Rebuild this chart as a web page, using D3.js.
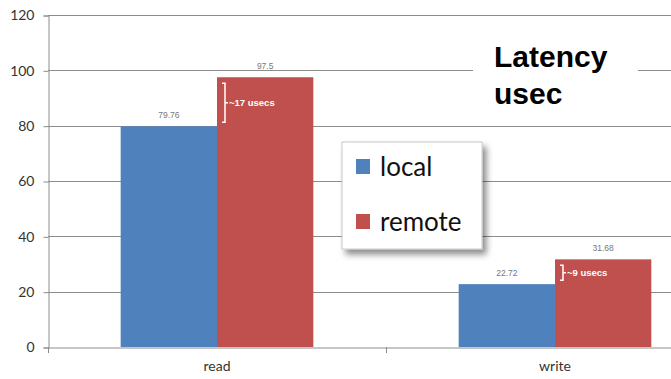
<!DOCTYPE html>
<html>
<head>
<meta charset="utf-8">
<script src="https://cdn.jsdelivr.net/npm/d3@7"></script>
<style>
  html, body { margin: 0; padding: 0; background: #fff; }
  svg { display: block; }
</style>
</head>
<body>
<svg id="chart" width="671" height="379"></svg>
<script>
// Latency per operation, microseconds
const categories = ["read", "write"];
const seriesNames = ["local", "remote"];
const localValues = [79.76, 22.72];
const remoteValues = [97.5, 31.68];
const yTicks = [0, 20, 40, 60, 80, 100, 120];
const gapNotes = ["~17 usecs", "~9 usecs"];
const colors = ["#4F81BD", "#C0504D"];

const svg = d3.select("#chart");
const font = "Lato, 'Open Sans', sans-serif";

const x = d3.scaleBand().domain(categories).range([48, 724]).paddingInner(0).paddingOuter(0);
const y = d3.scaleLinear().domain([0, 120]).range([347, 15]);
const groupFrac = 0.57;

// Gridlines
svg.append("g").selectAll("line").data(yTicks.slice(1)).join("line")
  .attr("x1", 48).attr("x2", 671)
  .attr("y1", d => Math.round(y(d)) + 0.5).attr("y2", d => Math.round(y(d)) + 0.5)
  .attr("stroke", "#8c8c8c").attr("stroke-width", 1);

// Y axis
const yAxis = d3.axisLeft(y).tickValues(yTicks).tickSize(5).tickPadding(9);
const gy = svg.append("g").attr("transform", "translate(48.5,0.5)").call(yAxis);
gy.select(".domain").attr("stroke", "#8c8c8c");
gy.selectAll(".tick line").attr("stroke", "#8c8c8c");
gy.selectAll(".tick text").attr("font-family", font).attr("font-size", 14).attr("fill", "#333");

// X axis
const xAxis = d3.axisBottom(x).tickSize(0).tickPadding(14);
const gx = svg.append("g").attr("transform", "translate(0,347.5)").call(xAxis);
gx.select(".domain").attr("stroke", "#8c8c8c");
gx.selectAll(".tick text").attr("font-family", font).attr("font-size", 14).attr("fill", "#333");
// Category separators
svg.append("g").selectAll("line").data(categories).join("line")
  .attr("x1", d => Math.round(x(d)) + 0.5).attr("x2", d => Math.round(x(d)) + 0.5)
  .attr("y1", 347).attr("y2", 353)
  .attr("stroke", "#8c8c8c");

// Bars
const barW = x.bandwidth() * groupFrac / 2;
const rows = categories.map((c, i) => ({ cat: c, vals: [localValues[i], remoteValues[i]] }));
const bars = [];
rows.forEach(r => r.vals.forEach((v, s) => bars.push({ cat: r.cat, s, v })));
const bx = d => x(d.cat) + x.bandwidth() / 2 + (d.s - 1) * barW;

svg.append("g").selectAll("rect").data(bars).join("rect")
  .attr("x", bx).attr("width", barW)
  .attr("y", d => y(d.v)).attr("height", d => y(0) - y(d.v))
  .attr("fill", d => colors[d.s]);

// Value labels
svg.append("g").selectAll("text").data(bars).join("text")
  .attr("x", d => bx(d) + barW / 2)
  .attr("y", d => y(d.v) - 8)
  .attr("text-anchor", "middle")
  .attr("font-family", "'Liberation Sans', Arial, sans-serif")
  .attr("font-size", 8.5)
  .attr("fill", "#777")
  .text(d => d.v);

// Braces marking the remote-vs-local gap
rows.forEach((r, i) => {
  const x0 = x(r.cat) + x.bandwidth() / 2 + 5;
  const top = y(r.vals[1]) + 6;
  const bot = y(r.vals[0]) - 4;
  const mid = (top + bot) / 2;
  const g = svg.append("g");
  g.append("path")
    .attr("d", `M${x0},${top} L${x0 + 3},${top} L${x0 + 3},${bot} L${x0},${bot} M${x0 + 3},${mid} L${x0 + 6},${mid}`)
    .attr("fill", "none").attr("stroke", "#fff").attr("stroke-width", 1.5);
  g.append("text")
    .attr("x", x0 + 7).attr("y", mid + 3.5)
    .attr("font-family", "'Liberation Sans', Arial, sans-serif")
    .attr("font-size", 9.5).attr("font-weight", "bold")
    .attr("fill", "#fff")
    .text(gapNotes[i]);
});

// Title
const title = svg.append("g");
title.append("rect").attr("x", 473).attr("y", 30).attr("width", 165).attr("height", 82).attr("fill", "#fff");
title.append("text").attr("x", 494).attr("y", 67)
  .attr("font-family", "'Liberation Sans', Arial, sans-serif")
  .attr("font-size", 30).attr("font-weight", "bold").attr("fill", "#000")
  .text("Latency");
title.append("text").attr("x", 494).attr("y", 104)
  .attr("font-family", "'Liberation Sans', Arial, sans-serif")
  .attr("font-size", 30).attr("font-weight", "bold").attr("fill", "#000")
  .text("usec");

// Legend with drop shadow
const defs = svg.append("defs");
const f = defs.append("filter").attr("id", "shadow").attr("x", "-20%").attr("y", "-20%").attr("width", "150%").attr("height", "150%");
f.append("feDropShadow").attr("dx", 4).attr("dy", 5).attr("stdDeviation", 3).attr("flood-color", "#000").attr("flood-opacity", 0.45);

const legend = svg.append("g").attr("transform", "translate(342,142)");
legend.append("rect").attr("width", 140).attr("height", 107)
  .attr("fill", "#fff").attr("stroke", "#c8c8c8").attr("filter", "url(#shadow)");
seriesNames.forEach((n, i) => {
  const yy = 25 + i * 55;
  legend.append("rect").attr("x", 14).attr("y", yy - 8).attr("width", 14).attr("height", 15).attr("fill", colors[i]);
  legend.append("text").attr("x", 38).attr("y", yy + 9)
    .attr("font-family", font).attr("font-size", 26).attr("fill", "#111")
    .text(n);
});
</script>
</body>
</html>
